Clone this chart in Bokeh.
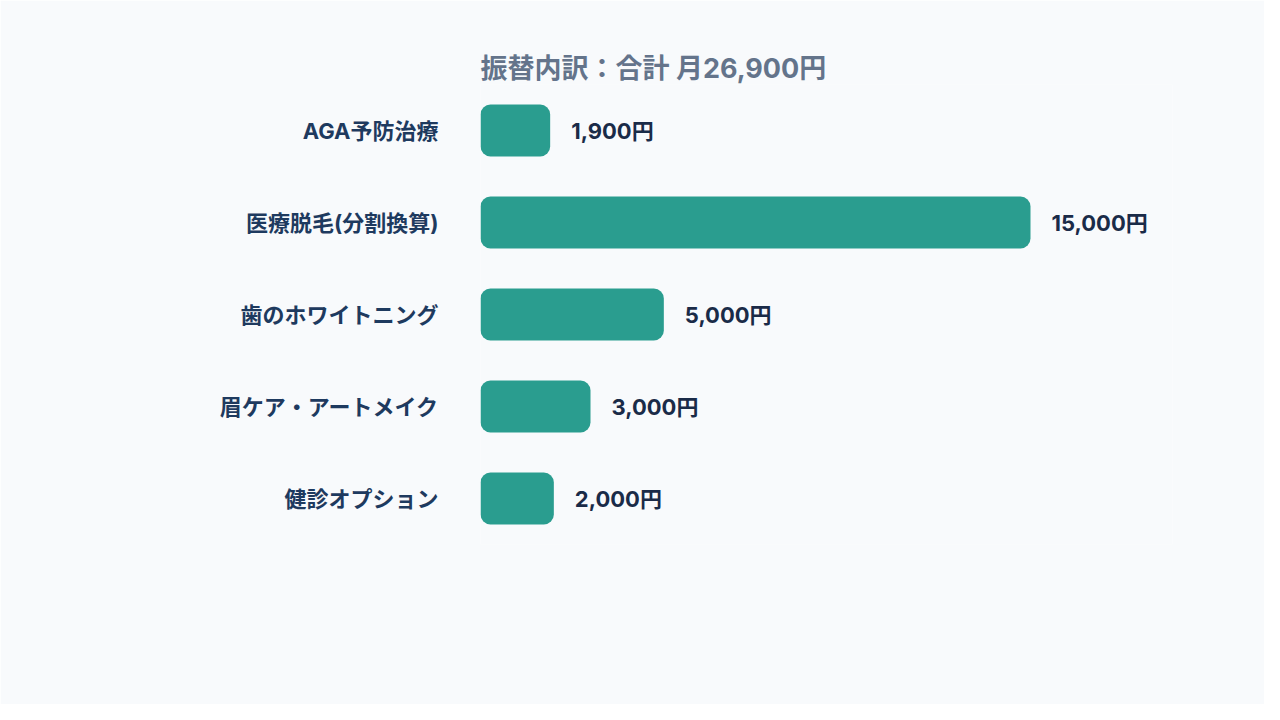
from bokeh.plotting import figure
from bokeh.models import ColumnDataSource, Range1d, FactorRange
from bokeh.core.properties import value
from bokeh.embed import file_html
from bokeh.resources import INLINE

categories = ["AGA予防治療", "医療脱毛(分割換算)", "歯のホワイトニング", "眉ケア・アートメイク", "健診オプション"]
amounts = [1900, 15000, 5000, 3000, 2000]
value_labels = ["1,900円", "15,000円", "5,000円", "3,000円", "2,000円"]
title_text = "振替内訳：合計 月26,900円"

FONT = "Inter, 'Noto Sans CJK JP'"
BG = "#f8fafc"
BAR = "#2a9d8f"
NAVY = "#1e3a5f"

src = ColumnDataSource(dict(cat=categories, amt=amounts, lab=value_labels))

p = figure(width=1264, height=704, output_backend="svg", toolbar_location=None,
           y_range=FactorRange(*list(reversed(categories))),
           x_range=Range1d(0, 18873),
           min_border_left=480, min_border_right=92,
           min_border_top=84, min_border_bottom=160,
           background_fill_color=BG, border_fill_color=BG,
           title=title_text)
p.outline_line_color = None
p.xgrid.visible = False
p.ygrid.visible = False
p.xaxis.visible = False

p.title.text_font = FONT
p.title.text_font_size = "27px"
p.title.text_font_style = "bold"
p.title.text_color = "#64748b"
p.title.align = "left"
p.title.standoff = 0

yax = p.yaxis[0]
yax.axis_line_color = None
yax.major_tick_line_color = None
yax.minor_tick_line_color = None
yax.major_label_text_font = FONT
yax.major_label_text_font_size = "22px"
yax.major_label_text_font_style = "bold"
yax.major_label_text_color = NAVY
yax.major_label_standoff = 36

p.hbar(y="cat", right="amt", left=0, height=0.565, source=src,
       fill_color=BAR, line_color=None, border_radius=10)

p.text(x="amt", y="cat", text="lab", source=src, x_offset=21,
       text_font=value(FONT), text_font_size="22px", text_font_style="bold",
       text_color="#1a2b48", text_baseline="middle", text_align="left")

open("out.html", "w").write(file_html(p, INLINE))
